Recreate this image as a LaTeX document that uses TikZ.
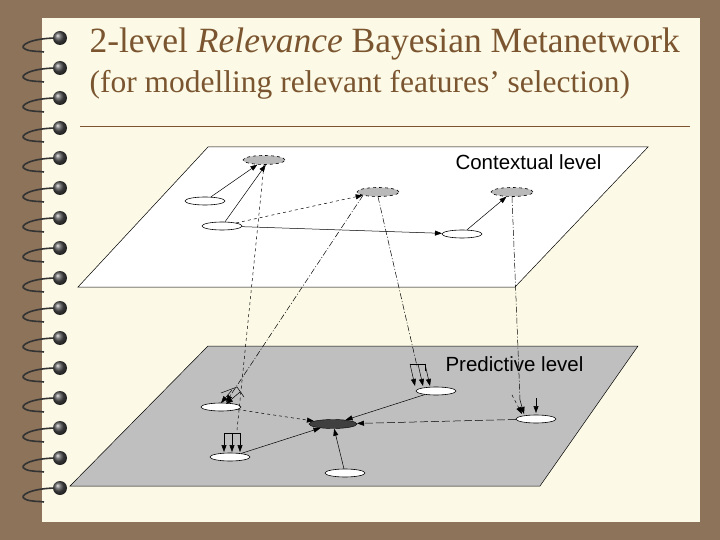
\documentclass[tikz,border=0pt]{standalone}
\usepackage{fontspec}
\setmainfont{Liberation Serif}
\newfontfamily\lsans{Liberation Sans}
\usetikzlibrary{arrows.meta,shapes.geometric}
\definecolor{bgbrown}{HTML}{8C735A}
\definecolor{paper}{HTML}{FCFAE6}
\definecolor{titlec}{HTML}{7A5530}
\tikzset{
  wn/.style={ellipse,draw,fill=white,minimum width=40pt,minimum height=8pt,inner sep=0pt,line width=0.6pt},
  gn/.style={ellipse,draw,dashed,fill=gray!55,minimum width=42pt,minimum height=9pt,inner sep=0pt,line width=0.6pt},
  dn/.style={ellipse,draw,fill=black!75,minimum width=48pt,minimum height=9pt,inner sep=0pt},
  ar/.style={-{Triangle[length=7pt,width=5pt]},line width=0.5pt},
  dar/.style={ar,dashed},
  ddar/.style={ar,dash pattern=on 6pt off 2pt on 1pt off 2pt},
  ring/.style={line width=1.6pt,gray!40!black},
}
\begin{document}
\begin{tikzpicture}[x=1pt,y=-1pt]
\useasboundingbox (0,0) rectangle (720,540);
\fill[bgbrown] (0,0) rectangle (720,540);
\fill[paper] (42,18) rectangle (700,522);
% spiral rings
\foreach \y in {38,68,...,508}{
  \draw[ring] (58,\y) .. controls (30,\y) and (18,\y+8) .. (25,\y+11) .. controls (30,\y+14) and (40,\y+13) .. (44,\y+14);
  \shade[ball color=black!70] (60,\y) circle (7);
}
% title
\node[anchor=west,text=titlec,font=\fontsize{35.5}{38}\selectfont] (t1) at (86,44) {2-level \textit{Relevance} Bayesian Metanetwork};
\node[anchor=west,text=titlec,font=\fontsize{31.5}{34}\selectfont] (t2) at (86,85) {(for modelling relevant features’ selection)};
\draw[titlec,line width=0.7pt] (80,126) -- (690,126);
% planes
\draw[fill=white,line width=0.5pt] (208,147) -- (648,147) -- (515,287) -- (78,287) -- cycle;
\draw[fill=gray!50,line width=0.5pt] (208,346) -- (638,346) -- (540,486) -- (70,486) -- cycle;
\node[font=\lsans\fontsize{20.5}{22}\selectfont,anchor=west] (cl) at (452,162) {Contextual level};
\node[font=\lsans\fontsize{20.5}{22}\selectfont,anchor=west] (pl) at (442,364) {Predictive level};
% top nodes
\node[gn] (g1) at (264,160) {};
\node[gn] (g2) at (378,192) {};
\node[gn] (g3) at (512,192) {};
\node[wn] (w1) at (205,201) {};
\node[wn] (w2) at (222,226) {};
\node[wn] (w3) at (462,234) {};
\draw[ar] (w1) -- (g1);
\draw[ar] (w2) -- (g1.290);
\draw[dar] (w2) -- (g2);
\draw[ar] (w2) -- (w3);
\draw[ar] (w3) -- (g3);
% bottom nodes
\node[wn] (b1) at (221,407) {};
\node[wn] (b2) at (230,457) {};
\node[dn] (c) at (333,424) {};
\node[wn] (b3) at (436,391) {};
\node[wn] (b4) at (536,419) {};
\node[wn] (b5) at (345,473) {};
\draw[dar] (b1) -- (c);
\draw[ar] (b2) -- (c);
\draw[ar] (b5) -- (c);
\draw[ar] (b3) -- (c);
\draw[ar,dash pattern=on 8pt off 3pt] (b4) -- (c);
% inter-level links
\coordinate (k1) at (237,430);
\coordinate (k2) at (236,387);
\coordinate (k4) at (520,400);
\draw[dashed,line width=0.5pt] (g1.south) -- (k1);
\draw[ddar] (g2.south west) -- (k2) -- (226,402);
\draw[dash pattern=on 6pt off 2pt on 1pt off 2pt,line width=0.5pt] (g2.south) -- (417,366);
\draw[dash pattern=on 6pt off 2pt on 1pt off 2pt,line width=0.5pt] (g3.south) -- (k4);
% brackets
\draw[line width=0.5pt] (224,433) -- (240,433);
\foreach \x in {224,232,240}{\draw[ar] (\x,433) -- (\x,452);}
\draw[line width=0.5pt] (221,393) -- (237,387) -- (244,397);
\draw[ar] (232,390) -- (221,403);
\draw[ar] (240,392) -- (226,404);
\draw[line width=0.5pt] (410,364) -- (425,364) -- (425,371);
\foreach \x in {410,418,425}{\draw[ar] (\x,364) -- (\x+5,386);}
\draw[ar,dashed] (512,395) -- (522,414);
\draw[ar] (520,400) -- (524,414);
\draw[ar] (536,398) -- (536,413);
\end{tikzpicture}
\end{document}
